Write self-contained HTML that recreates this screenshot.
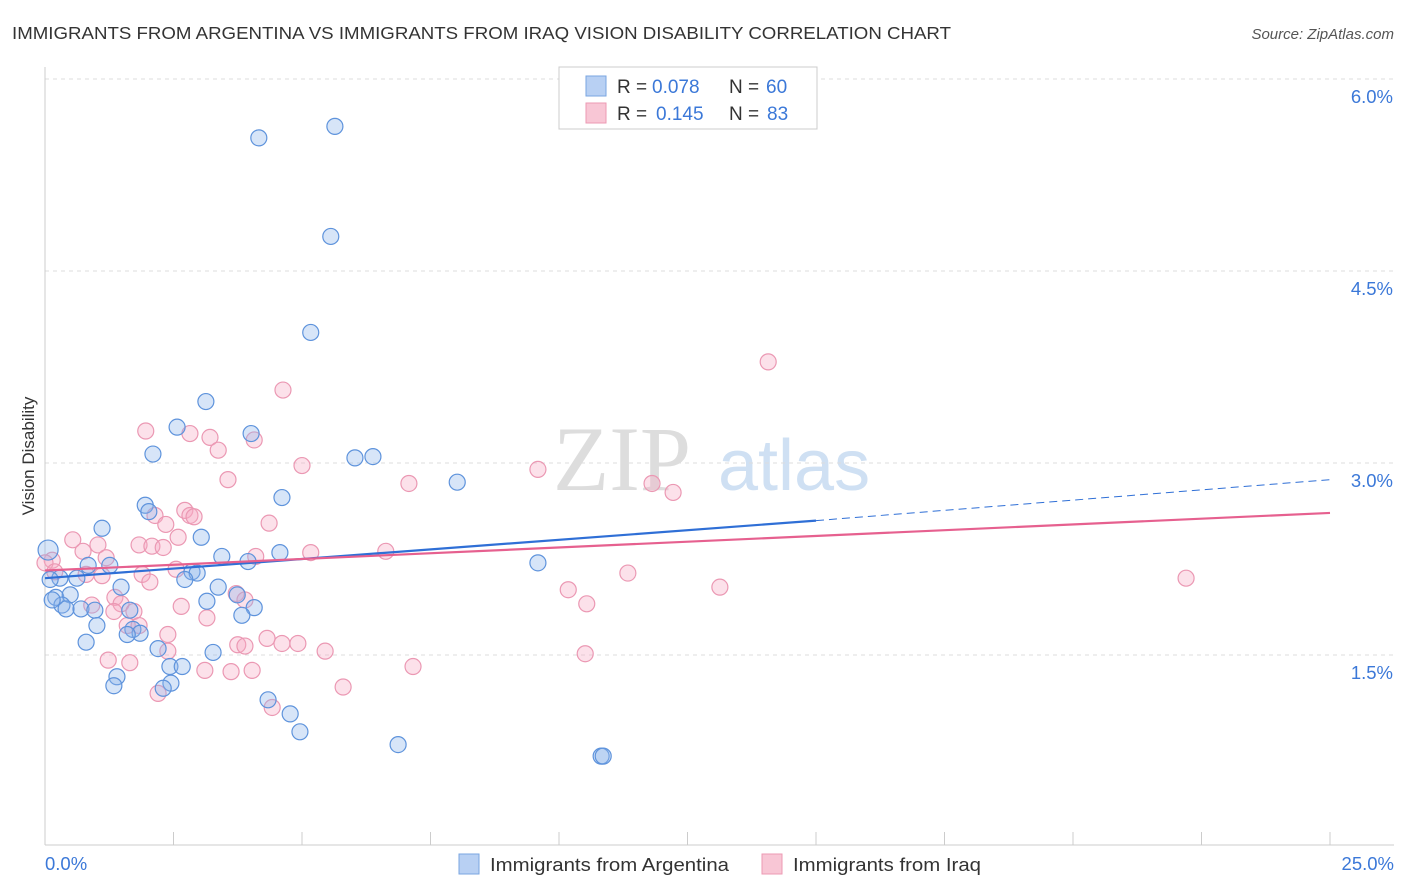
<!DOCTYPE html>
<html><head><meta charset="utf-8"><style>
body{margin:0;background:#fff;font-family:"Liberation Sans",sans-serif;}
svg{display:block}
</style></head><body>
<svg id="chart" width="1406" height="892">
<text x="12" y="39" font-size="17.5" fill="#333" textLength="939" lengthAdjust="spacingAndGlyphs">IMMIGRANTS FROM ARGENTINA VS IMMIGRANTS FROM IRAQ VISION DISABILITY CORRELATION CHART</text>
<text x="1394" y="39" font-size="15" fill="#555" font-style="italic" text-anchor="end">Source: ZipAtlas.com</text>
<text x="34" y="456" font-size="17" fill="#333" transform="rotate(-90 34 456)" text-anchor="middle">Vision Disability</text>
<g><text x="553" y="490" font-size="92" fill="#ddd" font-family="Liberation Serif,serif">ZIP</text><text x="718" y="490" font-size="72" fill="#cfe0f3">atlas</text></g>
<g id="grid"></g><g id="marks"></g>
<g>
<rect x="559" y="67" width="258" height="62" fill="#fff" stroke="#ccc"/>
<rect x="586" y="76" width="20" height="20" fill="#b8d0f3" stroke="#7aa6e0"/>
<rect x="586" y="103" width="20" height="20" fill="#f8c6d5" stroke="#ec9ab3"/>
<text y="93" font-size="19" fill="#333"><tspan x="617">R =</tspan><tspan x="652" fill="#3b78d8">0.078</tspan><tspan x="729">N =</tspan><tspan x="766" fill="#3b78d8">60</tspan></text>
<text y="120" font-size="19" fill="#333"><tspan x="617">R =</tspan><tspan x="656" fill="#3b78d8">0.145</tspan><tspan x="729">N =</tspan><tspan x="767" fill="#3b78d8">83</tspan></text>
</g>
<g>
<rect x="459" y="854" width="20" height="20" fill="#b8d0f3" stroke="#7aa6e0"/>
<text x="490" y="871" font-size="18.5" fill="#333" textLength="239" lengthAdjust="spacingAndGlyphs">Immigrants from Argentina</text>
<rect x="762" y="854" width="20" height="20" fill="#f8c6d5" stroke="#ec9ab3"/>
<text x="793" y="871" font-size="18.5" fill="#333" textLength="188" lengthAdjust="spacingAndGlyphs">Immigrants from Iraq</text>
</g>
</svg>
<script>
const yTicks=[1.5,3.0,4.5,6.0];
const xTickLabels=["0.0%","25.0%"];
const blueX=[4.16,5.64,5.56,5.17,3.13,2.57,4.01,2.10,6.03,6.38,8.02,4.61,1.95,2.02,1.11,3.04,4.57,3.44,3.95,1.26,0.84,0.29,0.62,2.86,2.96,2.72,1.48,3.37,3.74,3.15,4.07,0.21,0.49,0.33,0.41,0.70,0.97,1.65,3.83,1.01,1.71,1.85,1.60,0.80,2.20,3.27,2.43,2.67,1.40,2.45,2.30,1.34,4.34,4.77,4.96,6.87,10.82,10.86,9.59,0.06,0.10,0.14];
const blueY=[5.54,5.63,4.77,4.02,3.48,3.28,3.23,3.07,3.04,3.05,2.85,2.73,2.67,2.62,2.49,2.42,2.30,2.27,2.23,2.20,2.20,2.10,2.10,2.15,2.14,2.09,2.03,2.03,1.97,1.92,1.87,1.95,1.97,1.89,1.86,1.86,1.85,1.85,1.81,1.73,1.70,1.67,1.66,1.60,1.55,1.52,1.41,1.41,1.33,1.28,1.24,1.26,1.15,1.04,0.90,0.80,0.71,0.71,2.22,2.32,2.09,1.93];
const pinkX=[14.07,4.63,1.96,2.82,3.21,4.07,3.37,5.00,9.59,3.56,7.08,11.81,12.22,2.72,2.14,2.82,2.90,4.36,2.35,2.59,0.54,1.03,1.83,2.08,2.30,0.74,1.19,5.17,6.63,4.10,0.14,0.00,0.19,0.80,1.11,1.89,2.55,11.34,22.20,2.04,13.13,10.18,1.36,3.72,10.54,2.65,1.48,3.89,0.91,1.73,3.15,1.34,1.60,1.83,2.39,4.32,3.75,3.89,4.61,4.92,5.45,2.39,10.51,1.23,1.65,3.11,3.62,4.03,7.16,5.80,2.20,4.42];
const pinkY=[3.79,3.57,3.25,3.23,3.20,3.18,3.10,2.98,2.95,2.87,2.84,2.84,2.77,2.63,2.59,2.59,2.58,2.53,2.52,2.42,2.40,2.36,2.36,2.35,2.34,2.31,2.26,2.30,2.31,2.27,2.24,2.22,2.15,2.13,2.12,2.13,2.17,2.14,2.10,2.07,2.03,2.01,1.95,1.98,1.90,1.88,1.90,1.93,1.89,1.84,1.79,1.84,1.73,1.73,1.66,1.63,1.58,1.57,1.59,1.59,1.53,1.53,1.51,1.46,1.44,1.38,1.37,1.38,1.41,1.25,1.20,1.09];
const blueTrend=[2.10,2.55,2.87]; // at x=0, 15 (solid end), 25 (dashed end)
const pinkTrend=[2.16,2.61]; // at x=0, 25
const NS="http://www.w3.org/2000/svg";
const X=v=>45+v/25*1285, Y=v=>847-v*128;
function mk(tag,at,parent){const e=document.createElementNS(NS,tag);for(const k in at)e.setAttribute(k,at[k]);parent.appendChild(e);return e;}
const grid=document.getElementById('grid'), marks=document.getElementById('marks');
yTicks.forEach(t=>{
 const l=mk('line',{x1:45,x2:1394,y1:Y(t),y2:Y(t),stroke:'#ddd','stroke-dasharray':'4,4'},grid);
 
 
 const tx=mk('text',{x:1393,y:Y(t)+24,'font-size':18.5,fill:'#3b78d8','text-anchor':'end'},grid);
 tx.textContent=t.toFixed(1)+'%';
 
 
});
let ax=mk('line',{x1:45,x2:45,y1:67,y2:845,stroke:'#ccc'},grid);


ax=mk('line',{x1:45,x2:1394,y1:845,y2:845,stroke:'#ccc'},grid);


for(let i=0;i<=10;i++){const t=mk('line',{x1:X(i*2.5),x2:X(i*2.5),y1:832,y2:845,stroke:'#ccc'},grid);
 
 }
[[0,xTickLabels[0],'start',45],[25,xTickLabels[1],'end',1394]].forEach(([v,s,a,px])=>{
 const t=mk('text',{x:px,y:870,'font-size':18.5,fill:'#3b78d8','text-anchor':a},grid);t.textContent=s;
 
 });
function pts(xs,ys,fill,stroke,name){xs.forEach((x,i)=>{
 const c=mk('circle',{cx:X(x),cy:Y(ys[i]),r:(x<0.1&&name==='blue-point')?10:8,fill,stroke,'stroke-width':1.2},marks);
 
 });}
pts(pinkX,pinkY,'rgba(246,170,195,0.35)','#eb98b3','pink-point');
pts(blueX,blueY,'rgba(140,180,235,0.35)','#5e93dc','blue-point');
let t=mk('line',{x1:X(0),y1:Y(blueTrend[0]),x2:X(15),y2:Y(blueTrend[1]),stroke:'#2f6fd6','stroke-width':2.2},marks);


t=mk('line',{x1:X(15),y1:Y(blueTrend[1]),x2:X(25),y2:Y(blueTrend[2]),stroke:'#2f6fd6','stroke-width':1,'stroke-dasharray':'8,5'},marks);


t=mk('line',{x1:X(0),y1:Y(pinkTrend[0]),x2:X(25),y2:Y(pinkTrend[1]),stroke:'#e6608f','stroke-width':2.2},marks);


</script>
</body></html>
